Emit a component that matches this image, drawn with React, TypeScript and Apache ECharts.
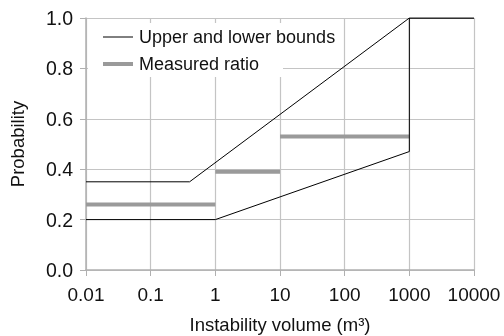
import React, { useEffect, useRef } from "react";
import * as echarts from "echarts";

const xTickLabels = ["0.01", "0.1", "1", "10", "100", "1000", "10000"];
const yTickLabels = ["0.0", "0.2", "0.4", "0.6", "0.8", "1.0"];

const upperX = [0.01, 0.4, 1000, 10000];
const upperY = [0.35, 0.35, 1.0, 1.0];
const lowerX = [0.01, 1, 1000, 1000, 10000];
const lowerY = [0.2, 0.2, 0.47, 1.0, 1.0];

const measuredFrom = [0.01, 1, 10];
const measuredTo = [1, 10, 1000];
const measuredRatio = [0.26, 0.39, 0.53];

const legendNames = ["Upper and lower bounds", "Measured ratio"];

const FONT = "Liberation Sans, Arial, sans-serif";

export default function App() {
  const ref = useRef<HTMLDivElement>(null);
  useEffect(() => {
    if (!ref.current) return;
    const chart = echarts.init(ref.current, undefined, { renderer: "svg" });
    const measuredSeries = measuredRatio.map((v, i) => ({
      name: legendNames[1],
      type: "line",
      symbol: "none",
      data: [
        [measuredFrom[i], v],
        [measuredTo[i], v],
      ],
      lineStyle: { color: "#9a9a9a", width: 4 },
      itemStyle: { color: "#9a9a9a" },
      z: 3,
    }));
    chart.setOption({
      animation: false,
      textStyle: { fontFamily: FONT },
      grid: {
        left: 86,
        right: 30,
        top: 18,
        bottom: 66,
        containLabel: false,
        outerBoundsMode: "none",
      },
      graphic: [
        {
          type: "rect",
          z: 10,
          shape: { x: 88, y: 23, width: 195, height: 54 },
          style: { fill: "#ffffff" },
        },
        {
          type: "line",
          z: 11,
          shape: { x1: 103, y1: 37, x2: 133, y2: 37 },
          style: { stroke: "#000", lineWidth: 1 },
        },
        {
          type: "text",
          z: 11,
          x: 139,
          y: 37,
          style: {
            text: legendNames[0],
            fontSize: 18,
            fill: "#111",
            fontFamily: FONT,
            verticalAlign: "middle",
          },
        },
        {
          type: "line",
          z: 11,
          shape: { x1: 103, y1: 64, x2: 133, y2: 64 },
          style: { stroke: "#9a9a9a", lineWidth: 4 },
        },
        {
          type: "text",
          z: 11,
          x: 139,
          y: 64,
          style: {
            text: legendNames[1],
            fontSize: 18,
            fill: "#111",
            fontFamily: FONT,
            verticalAlign: "middle",
          },
        },
      ],
      xAxis: {
        type: "log",
        logBase: 10,
        min: 0.01,
        max: 10000,
        name: "Instability volume (m³)",
        nameLocation: "middle",
        nameGap: 45,
        nameTextStyle: { fontSize: 18.5, color: "#111", fontFamily: FONT },
        axisLine: { lineStyle: { color: "#b0b0b0", width: 1.5 } },
        axisTick: { show: true, length: 6, lineStyle: { color: "#b0b0b0" } },
        minorTick: { show: false },
        axisLabel: {
          fontSize: 19,
          color: "#111",
          margin: 15,
          fontFamily: FONT,
          formatter: (v: number) => xTickLabels[Math.round(Math.log10(v)) + 2],
        },
        splitLine: { show: true, lineStyle: { color: "#c4c4c4", width: 1.2 } },
      },
      yAxis: {
        type: "value",
        min: 0,
        max: 1,
        interval: 0.2,
        name: "Probability",
        nameLocation: "middle",
        nameGap: 59,
        nameTextStyle: { fontSize: 18.5, color: "#111", fontFamily: FONT },
        axisLine: { show: true, lineStyle: { color: "#b0b0b0", width: 1.5 } },
        axisTick: { show: true, length: 6, lineStyle: { color: "#b0b0b0" } },
        axisLabel: {
          fontSize: 19.5,
          color: "#111",
          margin: 13,
          fontFamily: FONT,
          formatter: (v: number) => yTickLabels[Math.round(v * 5)],
        },
        splitLine: { show: true, lineStyle: { color: "#c4c4c4", width: 1.2 } },
      },
      series: [
        {
          name: legendNames[0],
          type: "line",
          symbol: "none",
          data: upperX.map((x, i) => [x, upperY[i]]),
          lineStyle: { color: "#000", width: 1 },
          itemStyle: { color: "#000" },
          z: 4,
        },
        {
          name: legendNames[0],
          type: "line",
          symbol: "none",
          data: lowerX.map((x, i) => [x, lowerY[i]]),
          lineStyle: { color: "#000", width: 1 },
          itemStyle: { color: "#000" },
          z: 4,
        },
        ...measuredSeries,
      ],
    });
    return () => chart.dispose();
  }, []);
  return (
    <div
      ref={ref}
      style={{ position: "fixed", left: 0, top: 0, width: 504, height: 336 }}
    />
  );
}
